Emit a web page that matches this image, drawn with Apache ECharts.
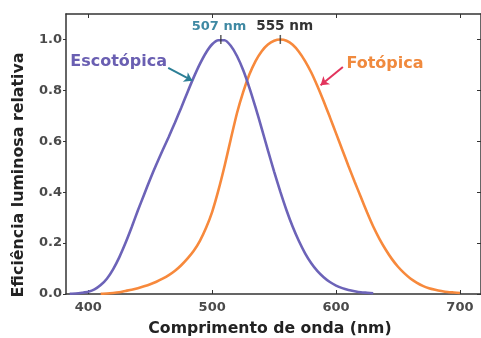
<!DOCTYPE html>
<html>
<head>
<meta charset="utf-8">
<script src="https://cdn.jsdelivr.net/npm/echarts@6/dist/echarts.min.js"></script>
<style>html,body{margin:0;padding:0;background:#fff;}#c{width:481px;height:338px;}</style>
</head>
<body>
<div id="c"></div>
<script>
// Wavelengths (nm)
var scotWl = [385,390,395,400,405,410,415,420,425,430,435,440,445,450,455,460,465,470,475,480,485,490,495,500,505,510,515,520,525,530,535,540,545,550,555,560,565,570,575,580,585,590,595,600,605,610,615,620,625,630];
var scotVal = [0.001,0.002,0.005,0.009,0.018,0.035,0.060,0.097,0.144,0.200,0.262,0.328,0.390,0.452,0.510,0.565,0.618,0.674,0.732,0.792,0.850,0.903,0.948,0.981,0.997,0.997,0.975,0.935,0.880,0.811,0.733,0.650,0.564,0.481,0.402,0.329,0.264,0.208,0.160,0.121,0.090,0.066,0.047,0.033,0.023,0.016,0.011,0.007,0.005,0.003];
var photWl = [410,415,420,425,430,435,440,445,450,455,460,465,470,475,480,485,490,495,500,505,510,515,520,525,530,535,540,545,550,555,560,565,570,575,580,585,590,595,600,605,610,615,620,625,630,635,640,645,650,655,660,665,670,675,680,685,690,695,700];
var photVal = [0.001,0.002,0.004,0.007,0.012,0.017,0.023,0.030,0.038,0.048,0.060,0.074,0.091,0.113,0.139,0.169,0.208,0.259,0.323,0.407,0.503,0.608,0.710,0.793,0.862,0.915,0.954,0.980,0.995,1.000,0.995,0.979,0.952,0.915,0.870,0.816,0.757,0.695,0.631,0.567,0.503,0.441,0.381,0.321,0.265,0.217,0.175,0.138,0.107,0.082,0.061,0.045,0.032,0.023,0.017,0.012,0.008,0.006,0.004];
var xTicks = [400,500,600,700];
var yTicks = [0,0.2,0.4,0.6,0.8,1.0];
var peaks = [[507,1.0],[555,1.0]];

function pairs(w,v){var o=[];for(var i=0;i<w.length;i++)o.push([w[i],v[i]]);return o;}

var FONT = 'DejaVu Sans';
var chart = echarts.init(document.getElementById('c'), null, {renderer:'canvas'});

function textPt(coord, text, color, size){
  return {coord: coord, symbol:'circle', symbolSize:0,
    label:{show:true, position:'inside', formatter:text, color:color, fontFamily:FONT, fontWeight:'bold', fontSize:size}};
}

chart.setOption({
  animation:false,
  backgroundColor:'#fff',
  grid:{left:66, right:0, top:14, bottom:44},
  xAxis:[{
    type:'value', min:382, max:717, position:'bottom',
    axisLine:{show:true, lineStyle:{color:'#333', width:1.5}},
    axisTick:{show:true, inside:true, length:4, customValues:xTicks, lineStyle:{color:'#333'}},
    axisLabel:{customValues:xTicks, color:'#4a4a4a', fontFamily:FONT, fontWeight:'bold', fontSize:13, margin:7},
    splitLine:{show:false}
  },{
    type:'value', min:382, max:717, position:'top',
    axisLine:{show:true, onZero:false, lineStyle:{color:'#333', width:1.5}},
    axisTick:{show:true, inside:true, length:4, customValues:xTicks, lineStyle:{color:'#333'}},
    axisLabel:{show:false}, splitLine:{show:false}
  }],
  yAxis:[{
    type:'value', min:0, max:1.1, position:'left',
    axisLine:{show:true, lineStyle:{color:'#333', width:1.5}},
    axisTick:{show:true, inside:false, length:3, customValues:yTicks, lineStyle:{color:'#333'}},
    axisLabel:{customValues:yTicks, formatter:function(v){return v.toFixed(1);}, color:'#4a4a4a', fontFamily:FONT, fontWeight:'bold', fontSize:13, margin:4},
    splitLine:{show:false}
  },{
    type:'value', min:0, max:1.1, position:'right',
    axisLine:{show:true, onZero:false, lineStyle:{color:'#333', width:1.5}},
    axisTick:{show:true, inside:true, length:4, customValues:yTicks, lineStyle:{color:'#333'}},
    axisLabel:{show:false}, splitLine:{show:false}
  }],
  graphic:[
    {type:'text', x:19, y:175, rotation:Math.PI/2, style:{text:'Eficiência luminosa relativa', fill:'#222', font:'bold 15.8px "DejaVu Sans"', textAlign:'center', textVerticalAlign:'middle'}},
    {type:'text', x:270, y:329, style:{text:'Comprimento de onda (nm)', fill:'#222', font:'bold 15.7px "DejaVu Sans"', textAlign:'center', textVerticalAlign:'middle'}}
  ],
  series:[{
    type:'line', name:'Escotópica', data:pairs(scotWl,scotVal), showSymbol:false, smooth:0.2,
    lineStyle:{color:'#6c63b8', width:2.6}, itemStyle:{color:'#6c63b8'}, z:3,
    markLine:{silent:true, symbol:['none','arrow'], symbolSize:8, label:{show:false},
      lineStyle:{color:'#2c7f96', width:2, type:'solid'},
      data:[[{coord:[464.5,0.888]},{coord:[484,0.838]}]]},
    markPoint:{silent:true, data:[
      textPt([424.5,0.912],'Escotópica','#6a5fb2',16),
      textPt([505.5,1.05],'507 nm','#3f89a3',13)
    ]}
  },{
    type:'line', name:'Fotópica', data:pairs(photWl,photVal), showSymbol:false, smooth:0.2,
    lineStyle:{color:'#f7893c', width:2.6}, itemStyle:{color:'#f7893c'}, z:2,
    markLine:{silent:true, symbol:['none','arrow'], symbolSize:8, label:{show:false},
      lineStyle:{color:'#e2335c', width:2, type:'solid'},
      data:[[{coord:[605.5,0.892]},{coord:[587.5,0.82]}]]},
    markPoint:{silent:true, data:[
      textPt([639.5,0.906],'Fotópica','#f08a3e',16),
      textPt([558.5,1.05],'555 nm','#333',13.6)
    ]}
  },{
    type:'scatter', data:peaks, symbol:'rect', symbolSize:[1.5,9],
    itemStyle:{color:'#333'}, z:5, silent:true
  }]
});
</script>
</body>
</html>
